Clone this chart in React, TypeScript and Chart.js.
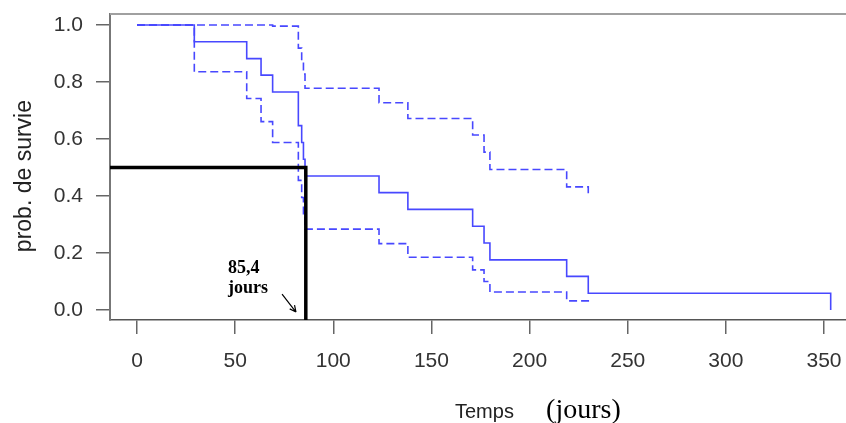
import React, { useEffect, useRef } from "react";
import { Chart, registerables } from "chart.js";

Chart.register(...registerables);

// Kaplan-Meier estimate
const survTimes = [0, 29.2, 55.9, 63.2, 69.1, 82.2, 83.9, 84.8, 85.6, 123.3, 138.0, 171.0, 176.8, 179.8, 218.9, 229.9, 353.4];
const survValues = [1, 0.941, 0.882, 0.824, 0.765, 0.647, 0.588, 0.529, 0.47, 0.412, 0.353, 0.294, 0.235, 0.176, 0.118, 0.059, 0];

// Upper confidence bound
const upperTimes = [0, 69.1, 82.2, 83.9, 84.8, 85.6, 123.3, 138.0, 171.0, 176.8, 179.8, 218.9, 229.9];
const upperValues = [1, 0.996, 0.919, 0.876, 0.828, 0.778, 0.727, 0.672, 0.614, 0.554, 0.493, 0.432, 0.41];

// Lower confidence bound
const lowerTimes = [0, 29.2, 55.9, 63.2, 69.1, 82.2, 83.9, 84.8, 85.6, 123.3, 138.0, 171.0, 176.8, 179.8, 218.9, 229.9];
const lowerValues = [1, 0.836, 0.742, 0.661, 0.588, 0.455, 0.395, 0.338, 0.284, 0.233, 0.185, 0.141, 0.1, 0.063, 0.032, 0.018];

// Median survival
const medianTime = 86;
const medianProb = 0.5;
const medianLabel = ["85,4", "jours"];

const xTicks = [0, 50, 100, 150, 200, 250, 300, 350];
const yTicks = [0, 0.2, 0.4, 0.6, 0.8, 1.0];
const xRange = [-13.75, 361.2];
const yRange = [-0.035, 1.0386];

const xTitle = "Temps";
const xTitleUnit = "(jours)";
const yTitle = "prob. de survie";

const BLUE = "rgb(72,72,255)";
const SANS = "'Liberation Sans', Arial, sans-serif";
const SERIF = "'Liberation Serif', 'Times New Roman', serif";

function pts(xs: number[], ys: number[]) {
  return xs.map((x, i) => ({ x, y: ys[i] }));
}

const annotationPlugin = {
  id: "annot",
  afterDatasetsDraw(chart: any) {
    const { ctx, chartArea, scales } = chart;
    const xs = scales.x;
    const ys = scales.y;
    ctx.save();
    // top border of the box
    ctx.strokeStyle = "#a0a0a0";
    ctx.lineWidth = 2;
    ctx.beginPath();
    ctx.moveTo(chartArea.left, chartArea.top);
    ctx.lineTo(chartArea.right, chartArea.top);
    ctx.stroke();

    // median label
    ctx.fillStyle = "#000";
    ctx.font = `bold 18px ${SERIF}`;
    ctx.textAlign = "left";
    ctx.textBaseline = "alphabetic";
    ctx.fillText(medianLabel[0], xs.getPixelForValue(46.4), ys.getPixelForValue(0.131));
    ctx.fillText(medianLabel[1], xs.getPixelForValue(46.4), ys.getPixelForValue(0.0586));

    // arrow
    const x1 = xs.getPixelForValue(73.9), y1 = ys.getPixelForValue(0.056);
    const x2 = xs.getPixelForValue(81.0), y2 = ys.getPixelForValue(-0.007);
    ctx.strokeStyle = "#000";
    ctx.lineWidth = 1.2;
    ctx.beginPath();
    ctx.moveTo(x1, y1);
    ctx.lineTo(x2, y2);
    const ang = Math.atan2(y2 - y1, x2 - x1);
    const L = 7;
    ctx.moveTo(x2, y2);
    ctx.lineTo(x2 - L * Math.cos(ang - 0.45), y2 - L * Math.sin(ang - 0.45));
    ctx.moveTo(x2, y2);
    ctx.lineTo(x2 - L * Math.cos(ang + 0.45), y2 - L * Math.sin(ang + 0.45));
    ctx.stroke();

    // axis titles
    const H = chart.height;
    ctx.fillStyle = "#222";
    ctx.font = `20px ${SANS}`;
    ctx.textAlign = "center";
    ctx.fillText(xTitle, xs.getPixelForValue(177), H - 5);
    ctx.font = `28px ${SERIF}`;
    ctx.textAlign = "left";
    ctx.fillStyle = "#000";
    ctx.fillText(xTitleUnit, xs.getPixelForValue(208.4), H - 5);

    ctx.save();
    ctx.fillStyle = "#222";
    ctx.font = `23px ${SANS}`;
    ctx.translate(31, ys.getPixelForValue(0.47));
    ctx.rotate(-Math.PI / 2);
    ctx.textAlign = "center";
    ctx.textBaseline = "alphabetic";
    ctx.fillText(yTitle, 0, 0);
    ctx.restore();
    ctx.restore();
  },
};

export default function App() {
  const ref = useRef<HTMLCanvasElement>(null);
  useEffect(() => {
    document.body.style.margin = "0";
    const chart = new Chart(ref.current as HTMLCanvasElement, {
      type: "line",
      data: {
        datasets: [
          {
            data: [
              { x: xRange[0], y: medianProb },
              { x: medianTime, y: medianProb },
              { x: medianTime, y: yRange[0] },
            ],
            borderColor: "#000",
            borderWidth: 3.5,
            pointRadius: 0,
            order: 0,
          } as any,
          {
            data: pts(survTimes, survValues),
            borderColor: BLUE,
            borderWidth: 1.6,
            pointRadius: 0,
            stepped: "before",
            order: 1,
          },
          {
            data: pts(upperTimes, upperValues),
            borderColor: BLUE,
            borderWidth: 1.6,
            borderDash: [8, 4],
            pointRadius: 0,
            stepped: "before",
            order: 1,
          },
          {
            data: pts(lowerTimes, lowerValues),
            borderColor: BLUE,
            borderWidth: 1.6,
            borderDash: [8, 4],
            pointRadius: 0,
            stepped: "before",
            order: 1,
          },
        ],
      },
      options: {
        animation: false,
        responsive: false,
        devicePixelRatio: 1,
        layout: { padding: { top: 14, right: 0, left: 0, bottom: 0 } },
        plugins: { legend: { display: false }, tooltip: { enabled: false } },
        scales: {
          x: {
            type: "linear",
            min: xRange[0],
            max: xRange[1],
            afterBuildTicks: (s: any) => {
              s.ticks = xTicks.map((v) => ({ value: v }));
            },
            afterFit: (s: any) => {
              s.height = 103;
              s.paddingLeft = 0;
              s.paddingRight = 0;
            },
            grid: { drawOnChartArea: false, drawTicks: true, tickLength: 14, color: "#666", lineWidth: 1.5 },
            border: { display: true, color: "#555", width: 1.5 },
            ticks: {
              font: { family: SANS, size: 21 },
              color: "#333",
              padding: 15,
              maxRotation: 0,
              autoSkip: false,
              callback: (v: any) => String(v),
            },
          },
          y: {
            type: "linear",
            min: yRange[0],
            max: yRange[1],
            afterBuildTicks: (s: any) => {
              s.ticks = yTicks.map((v) => ({ value: v }));
            },
            afterFit: (s: any) => {
              s.width = 110;
              s.paddingTop = 0;
              s.paddingBottom = 0;
            },
            grid: { drawOnChartArea: false, drawTicks: true, tickLength: 14, color: "#666", lineWidth: 1.5 },
            border: { display: true, color: "#777", width: 2 },
            ticks: {
              font: { family: SANS, size: 21 },
              color: "#333",
              padding: 13,
              autoSkip: false,
              callback: (v: any) => Number(v).toFixed(1),
            },
          },
        },
      },
      plugins: [annotationPlugin],
    });
    return () => chart.destroy();
  }, []);
  return (
    <div style={{ width: 846, height: 423 }}>
      <canvas ref={ref} width={846} height={423} />
    </div>
  );
}
